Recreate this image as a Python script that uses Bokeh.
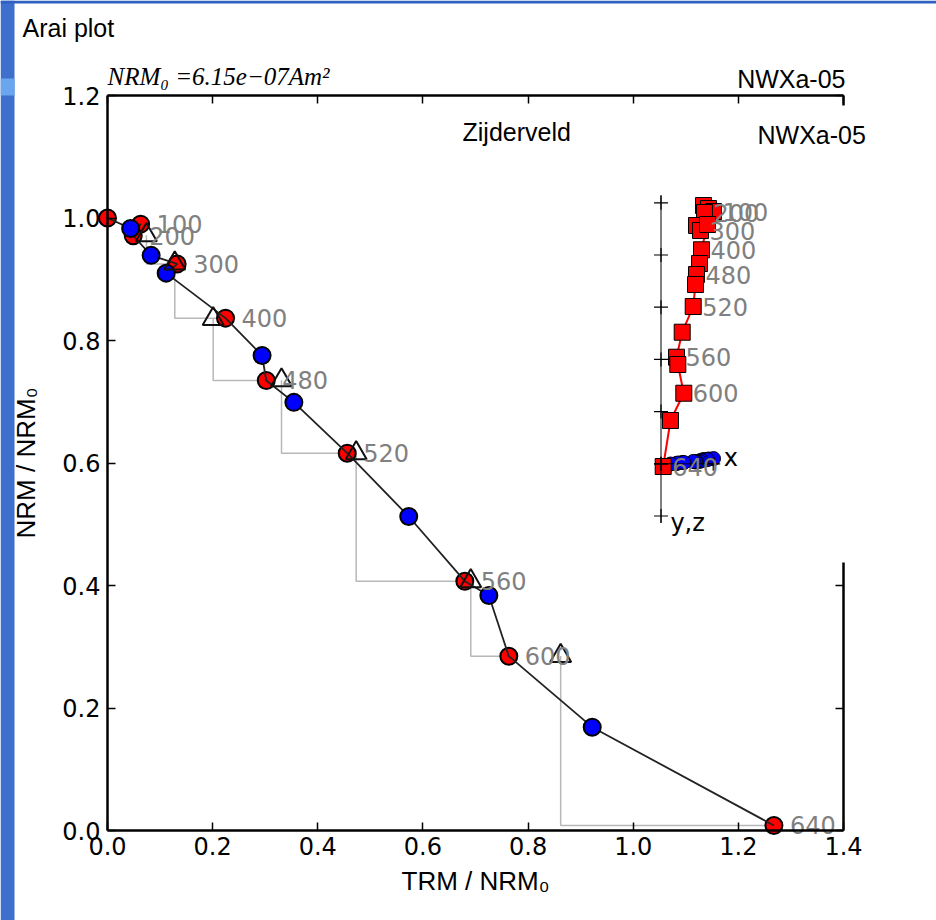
from bokeh.plotting import figure
from bokeh.models import Range1d, LinearAxis, FixedTicker, Label, BoxAnnotation
from bokeh.embed import file_html
from bokeh.resources import INLINE
from bokeh.core.properties import value

# ---------------- data ----------------
# Arai plot: heating steps in temperature order
step_label = ["", "", "100", "200", "", "300", "", "400", "", "480", "", "520", "", "560", "", "600", "", "640"]
step_kind = ["ZI", "IZ", "ZI", "ZI", "IZ", "ZI", "IZ", "ZI", "IZ", "ZI", "IZ", "ZI", "IZ", "ZI", "IZ", "ZI", "IZ", "ZI"]
arai_trm = [0.0, 0.044, 0.063, 0.049, 0.083, 0.1325, 0.1116, 0.2245, 0.294, 0.302, 0.3545,
            0.456, 0.573, 0.6797, 0.7254, 0.7634, 0.922, 1.2676]
arai_nrm = [1.0, 0.983, 0.990, 0.971, 0.939, 0.925, 0.910, 0.8365, 0.7755, 0.7347, 0.699,
            0.616, 0.5127, 0.407, 0.3837, 0.2846, 0.1687, 0.0082]

# pTRM checks
ptrm_x = [0.074, 0.128, 0.201, 0.331, 0.473, 0.691, 0.862]
ptrm_y = [0.972, 0.926, 0.835, 0.735, 0.616, 0.407, 0.285]
ptrm_to = ["300", "400", "480", "520", "560", "600", "640"]

# Zijderveld inset (same steps; units of the inset tick spacing)
zij_x = [0.814, 0.910, 1.006, 0.833, 0.680, 0.757, 0.891, 0.776, 0.738, 0.680, 0.661,
         0.617, 0.406, 0.297, 0.322, 0.437, 0.182, 0.042]
zij_y = [-0.082, -0.092, -0.100, -0.073, -0.044, -0.063, -0.082, -0.063, -0.044, -0.044,
         -0.034, -0.044, -0.025, -0.006, -0.015, -0.025, 0.004, 0.033]
zij_z = [-4.948, -4.891, -4.833, -4.814, -4.565, -4.469, -4.584, -4.100, -3.837, -3.626,
         -3.435, -3.013, -2.521, -2.042, -1.902, -1.352, -0.830, 0.052]
zij_ticks = [-5, -4, -3, -2, -1, 0, 1]
zij_xticks = [0, 1]

x_ticks = [0.0, 0.2, 0.4, 0.6, 0.8, 1.0, 1.2, 1.4]
x_tick_labels = ["0.0", "0.2", "0.4", "0.6", "0.8", "1.0", "1.2", "1.4"]
y_ticks = [0.0, 0.2, 0.4, 0.6, 0.8, 1.0, 1.2]
y_tick_labels = ["0.0", "0.2", "0.4", "0.6", "0.8", "1.0", "1.2"]

# ---------------- layout constants ----------------
W, H = 936, 920
AL, AR, AT, AB = 107, 843, 95, 830          # Arai axes box (canvas px)
Z_OX, Z_OY, Z_UNIT = 660.5, 463.3, 52.2    # inset origin & unit (canvas px)

x0, x1 = x_ticks[0], x_ticks[-1]
y0, y1 = y_ticks[0], y_ticks[-1]
xu = (AR - AL) / (x1 - x0)
yu = (AB - AT) / (y1 - y0)

p = figure(width=W, height=H,
           x_range=Range1d(x0 - AL / xu, x1 + (W - AR) / xu),
           y_range=Range1d(y0 - (H - AB) / yu, y1 + AT / yu),
           output_backend="svg", toolbar_location=None,
           x_axis_location=None, y_axis_location=None,
           min_border_left=0, min_border_right=0, min_border_top=0, min_border_bottom=0)
p.grid.visible = False
p.outline_line_color = None
p.background_fill_color = "white"
p.border_fill_color = "white"

p.extra_x_ranges = {"zx": Range1d((0 - Z_OX) / Z_UNIT, (W - Z_OX) / Z_UNIT)}
p.extra_y_ranges = {"zy": Range1d((H - Z_OY) / Z_UNIT, (0 - Z_OY) / Z_UNIT)}


def make_axis(ticks, labels, loc, bounds, show_labels=True):
    ax = LinearAxis(fixed_location=loc, bounds=bounds)
    ax.ticker = FixedTicker(ticks=ticks, minor_ticks=[])
    ax.major_label_overrides = {t: l for t, l in zip(ticks, labels)}
    ax.axis_line_width = 2.5
    ax.axis_line_color = "black"
    ax.major_tick_in = 8
    ax.major_tick_out = 0
    ax.major_tick_line_width = 1.5
    ax.major_tick_line_color = "black"
    ax.minor_tick_line_color = None
    ax.major_label_text_font = "DejaVu Sans"
    ax.major_label_text_font_size = "24px"
    ax.major_label_text_color = "black"
    if not show_labels:
        ax.major_label_text_color = None
    return ax


bottom_ax = make_axis(x_ticks, x_tick_labels, y0, (x0, x1))
bottom_ax.major_label_standoff = 6
bottom_ax.axis_label = "TRM / NRM\u2080"
bottom_ax.axis_label_standoff = 8
left_ax = make_axis(y_ticks, y_tick_labels, x0, (y0, y1))
left_ax.major_label_standoff = 7
left_ax.axis_label = "NRM / NRM\u2080"
left_ax.axis_label_standoff = 18
for ax in (bottom_ax, left_ax):
    ax.axis_label_text_font = "Liberation Sans"
    ax.axis_label_text_font_size = "26px"
    ax.axis_label_text_font_style = "normal"
    ax.axis_label_text_color = "black"
p.add_layout(bottom_ax, "below")
p.add_layout(left_ax, "left")
p.add_layout(make_axis(x_ticks, x_tick_labels, y1, (x0, x1), show_labels=False), "above")
p.add_layout(make_axis(y_ticks, y_tick_labels, x1, (y0, y1), show_labels=False), "right")

# ---------------- Arai plot ----------------
idx = {l: i for i, l in enumerate(step_label) if l}
stair_x = [[px, px, arai_trm[idx[t]]] for px, t in zip(ptrm_x, ptrm_to)]
stair_y = [[py, arai_nrm[idx[t]], arai_nrm[idx[t]]] for py, t in zip(ptrm_y, ptrm_to)]
p.multi_line(stair_x, stair_y, line_color="#b8b8b8", line_width=1.5)

zi_x = [x for x, k in zip(arai_trm, step_kind) if k == "ZI"]
zi_y = [y for y, k in zip(arai_nrm, step_kind) if k == "ZI"]
iz_x = [x for x, k in zip(arai_trm, step_kind) if k == "IZ"]
iz_y = [y for y, k in zip(arai_nrm, step_kind) if k == "IZ"]

p.scatter(zi_x, zi_y, marker="circle", size=17, fill_color="#ff0000", line_color="black", line_width=2)
p.line(arai_trm, arai_nrm, line_color="#222222", line_width=1.8)
p.scatter(iz_x, iz_y, marker="circle", size=17, fill_color="#0000ff", line_color="black", line_width=2)
p.scatter(ptrm_x, ptrm_y, marker="triangle", size=21, fill_alpha=0, line_color="#111111", line_width=2)

lab_x = [arai_trm[i] for i, l in enumerate(step_label) if l]
lab_y = [arai_nrm[i] for i, l in enumerate(step_label) if l]
lab_t = [l for l in step_label if l]
p.text(lab_x, lab_y, text=lab_t, x_offset=16, text_baseline="middle", text_align="left",
       text_color="#808080", text_font=value("DejaVu Sans"), text_font_size="24px")


# ---------------- boxes (screen units = canvas px, y upward) ----------------
def add_box(left, right, top, bottom, color):
    p.add_layout(BoxAnnotation(left=left, right=right, top=H - top, bottom=H - bottom,
                               left_units="screen", right_units="screen", top_units="screen",
                               bottom_units="screen", fill_color=color, fill_alpha=1,
                               line_color=None))


add_box(0, 14, 0, H, "#3f6fcc")
add_box(0, 14, 78, 95, "#6aa6ee")
add_box(0, W, 0, 3, "#3060c0")
# white panel of the Zijderveld window
add_box(452, W + 5, 105, 562, "white")

# ---------------- Zijderveld inset ----------------
kw = dict(x_range_name="zx", y_range_name="zy", level="overlay")
p.line(zij_x, zij_y, line_color="#0000ff", line_width=2, **kw)
p.scatter(zij_x, zij_y, marker="circle", size=14, fill_color="#0000ff", line_color="black", line_width=1, **kw)
p.line(zij_x, zij_z, line_color="#ff0000", line_width=2, **kw)
p.scatter(zij_x, zij_z, marker="square", size=16, fill_color="#ff0000", line_color="black", line_width=1, **kw)
p.line([0, 0], [zij_ticks[0] - 0.15, zij_ticks[-1] + 0.13], line_color="black", line_width=1, **kw)
p.line([0, zij_xticks[-1] + 0.1], [0, 0], line_color="black", line_width=1, **kw)
p.scatter([0] * len(zij_ticks), zij_ticks, marker="cross", size=14, line_color="black", line_width=1.2, **kw)
p.scatter(zij_xticks, [0] * len(zij_xticks), marker="cross", size=14, line_color="black", line_width=1.2, **kw)
zl_x = [zij_x[i] for i, l in enumerate(step_label) if l]
zl_z = [zij_z[i] for i, l in enumerate(step_label) if l]
p.text(zl_x, zl_z, text=lab_t, x_offset=9, text_baseline="middle", text_align="left",
       text_color="#808080", text_font=value("DejaVu Sans"), text_font_size="24px", **kw)
p.text([1.2], [-0.12], text=["x"], text_baseline="middle", text_color="black",
       text_font=value("DejaVu Sans"), text_font_size="24px", **kw)
p.text([0.18], [1.14], text=["y,z"], text_baseline="middle", text_color="black",
       text_font=value("DejaVu Sans"), text_font_size="24px", **kw)


# ---------------- texts ----------------
def add_label(text, cx, cy, font, size, align="left", style="normal", color="black"):
    p.add_layout(Label(x=cx, y=H - cy, x_units="screen", y_units="screen", text=text,
                       text_font=font, text_font_size=size, text_align=align,
                       text_baseline="alphabetic", text_font_style=style, text_color=color,
                       level="overlay"))


add_label("Arai plot", 22, 27, "Liberation Sans", "25px")
add_label("NRM\u2080 =6.15e\u221207Am\u00b2", 107, 76, "Liberation Serif", "25px", style="italic")
add_label("NWXa-05", 845, 78, "Liberation Sans", "25px", align="right")
add_label("Zijderveld", 462, 131, "Liberation Sans", "25px")
add_label("NWXa-05", 757, 134, "Liberation Sans", "25px")

open("out.html", "w").write(file_html(p, INLINE))
